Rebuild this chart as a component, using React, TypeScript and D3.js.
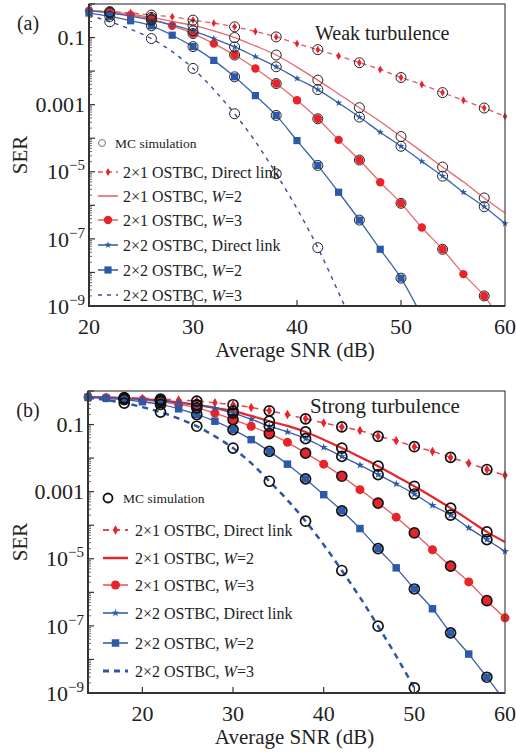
import React, { useEffect, useRef } from 'react';
import * as d3 from 'd3';

const FONT = '"Liberation Serif", "Times New Roman", serif';

// SNR grids (dB)
const snrWeak = [20, 22, 24, 26, 28, 30, 32, 34, 36, 38, 40, 42, 44, 46, 48, 50, 52, 54, 56, 58, 60];
const snrStrong = [14, 16, 18, 20, 22, 24, 26, 28, 30, 32, 34, 36, 38, 40, 42, 44, 46, 48, 50, 52, 54, 56, 58, 60];
const mcWeak = [22, 26, 30, 34, 38, 42, 46, 50, 54, 58];
const mcStrong = [18, 22, 26, 30, 34, 38, 42, 46, 50, 54, 58];

// log10(SER), panel (a) weak turbulence
const weak21Direct = [-0.2, -0.23, -0.26, -0.33, -0.38, -0.48, -0.57, -0.68, -0.82, -0.98, -1.18, -1.36, -1.55, -1.75, -1.95, -2.19, -2.4, -2.64, -2.87, -3.1, -3.35];
const weak21W2 = [-0.2, -0.24, -0.3, -0.4, -0.52, -0.64, -0.8, -1.0, -1.25, -1.52, -1.88, -2.27, -2.68, -3.09, -3.5, -3.95, -4.4, -4.86, -5.3, -5.78, -6.23];
const weak21W3 = [-0.2, -0.25, -0.33, -0.45, -0.65, -0.88, -1.18, -1.52, -1.92, -2.37, -2.87, -3.42, -4.05, -4.65, -5.31, -5.94, -6.66, -7.31, -8.05, -8.7, -9.6];
const weak22Direct = [-0.2, -0.27, -0.36, -0.48, -0.62, -0.8, -1.03, -1.28, -1.57, -1.87, -2.22, -2.55, -2.95, -3.37, -3.82, -4.24, -4.69, -5.13, -5.61, -6.04, -6.54];
const weak22W2 = [-0.27, -0.37, -0.5, -0.65, -0.93, -1.27, -1.68, -2.17, -2.73, -3.32, -4.07, -4.81, -5.61, -6.44, -7.31, -8.17, -9.3];
const weak22W3 = [-0.33, -0.53, -0.75, -1.03, -1.42, -1.92, -2.55, -3.27, -4.1, -5.06, -6.1, -7.26, -8.6, -10];

// log10(SER), panel (b) strong turbulence
const strong21Direct = [-0.18, -0.19, -0.2, -0.22, -0.24, -0.27, -0.3, -0.35, -0.41, -0.49, -0.59, -0.7, -0.83, -0.95, -1.07, -1.18, -1.35, -1.48, -1.66, -1.8, -1.98, -2.15, -2.34, -2.51];
const strong21W2 = [-0.18, -0.19, -0.21, -0.24, -0.28, -0.34, -0.42, -0.5, -0.6, -0.74, -0.9, -1.04, -1.22, -1.45, -1.7, -1.97, -2.24, -2.54, -2.84, -3.16, -3.49, -3.84, -4.2, -4.5];
const strong21W3 = [-0.18, -0.2, -0.23, -0.27, -0.32, -0.4, -0.5, -0.66, -0.85, -1.05, -1.27, -1.53, -1.85, -2.18, -2.54, -2.94, -3.34, -3.76, -4.23, -4.73, -5.22, -5.69, -6.25, -6.76];
const strong22Direct = [-0.17, -0.19, -0.22, -0.25, -0.29, -0.34, -0.41, -0.52, -0.66, -0.84, -1.05, -1.22, -1.42, -1.68, -1.95, -2.21, -2.49, -2.77, -3.07, -3.41, -3.7, -4.08, -4.43, -4.78];
const strong22W2 = [-0.19, -0.22, -0.26, -0.32, -0.4, -0.53, -0.7, -0.9, -1.15, -1.45, -1.8, -2.18, -2.62, -3.09, -3.57, -4.1, -4.7, -5.27, -5.9, -6.49, -7.21, -7.84, -8.53, -9.25];
const strong22W3 = [-0.2, -0.27, -0.36, -0.48, -0.63, -0.82, -1.05, -1.35, -1.7, -2.15, -2.69, -3.25, -3.88, -4.58, -5.35, -6.15, -7.01, -7.9, -8.85, -9.8];

const legendLabels = [
  ['2×1 OSTBC, Direct link', ''],
  ['2×1 OSTBC, ', 'W', '=2'],
  ['2×1 OSTBC, ', 'W', '=3'],
  ['2×2 OSTBC, Direct link', ''],
  ['2×2 OSTBC, ', 'W', '=2'],
  ['2×2 OSTBC, ', 'W', '=3'],
];
const xTickLabels = [20, 30, 40, 50, 60];
const yTickExps = [-1, -3, -5, -7, -9];

const RED = '#e8232a';
const BLUE = '#2c5aa8';

function drawPanel(svg, p) {
  const g = svg.append('g');
  const x = d3.scaleLinear().domain(p.xDomain).range([p.left, p.right]);
  const y = d3.scaleLinear().domain([0, -9]).range([p.top, p.bottom]);
  const clipId = 'clip' + p.tag.replace(/\W/g, '');

  g.append('clipPath').attr('id', clipId)
    .append('rect').attr('x', p.left).attr('y', p.top)
    .attr('width', p.right - p.left).attr('height', p.bottom - p.top);

  // lines
  p.series.forEach((s) => {
    const pts = s.values.map((v, i) => [p.snr[i], v]);
    const line = d3.line().curve(d3.curveMonotoneX).x((d) => x(d[0])).y((d) => y(d[1]));
    g.append('path').datum(pts)
      .attr('clip-path', `url(#${clipId})`)
      .attr('d', line)
      .attr('fill', 'none')
      .attr('stroke', s.lineColor)
      .attr('stroke-width', s.width)
      .attr('stroke-dasharray', s.dash || null);
  });

  // markers
  const drawMarker = (sel, type, cx, cy, m) => {
    if (type === 'circle') {
      sel.append('circle').attr('cx', cx).attr('cy', cy).attr('r', m.r).attr('fill', m.color);
    } else if (type) {
      const sym = { diamond: d3.symbolDiamond, star: d3.symbolStar, square: d3.symbolSquare }[type];
      sel.append('path').attr('d', d3.symbol(sym, m.size)())
        .attr('transform', `translate(${cx},${cy})`).attr('fill', m.color);
    }
  };
  p.series.forEach((s) => {
    if (!s.marker) return;
    s.values.forEach((v, i) => {
      if (v < -9.05) return;
      drawMarker(g, s.marker, x(p.snr[i]), y(v), s);
    });
  });

  // MC simulation circles
  p.series.forEach((s) => {
    p.mc.forEach((snr) => {
      const i = p.snr.indexOf(snr);
      const v = s.values[i];
      if (v === undefined || v < -9.05) return;
      g.append('circle').attr('cx', x(snr)).attr('cy', y(v)).attr('r', p.mcR)
        .attr('fill', 'none').attr('stroke', p.mcStroke).attr('stroke-width', p.mcWidth);
    });
  });

  // frame
  g.append('rect').attr('x', p.left).attr('y', p.top)
    .attr('width', p.right - p.left).attr('height', p.bottom - p.top)
    .attr('fill', 'none').attr('stroke', '#444').attr('stroke-width', 1.2);
  g.append('path')
    .attr('d', `M${p.left},${p.top}V${p.bottom}H${p.right}`)
    .attr('fill', 'none').attr('stroke', '#333').attr('stroke-width', 2);

  // y ticks (log decades with minors)
  for (let e = -9; e <= 0; e++) {
    g.append('line').attr('x1', p.left).attr('x2', p.left + 6)
      .attr('y1', y(e)).attr('y2', y(e)).attr('stroke', '#333').attr('stroke-width', 1.2);
    if (e === 0) continue;
    for (let k = 2; k <= 9; k++) {
      const yy = y(e + Math.log10(k));
      g.append('line').attr('x1', p.left).attr('x2', p.left + 3)
        .attr('y1', yy).attr('y2', yy).attr('stroke', '#444').attr('stroke-width', 0.8);
    }
  }
  yTickExps.forEach((e) => {
    const t = g.append('text').attr('x', p.left - 4).attr('y', y(e)).attr('dy', '0.35em')
      .attr('text-anchor', 'end').attr('font-family', FONT).attr('font-size', 22).attr('fill', '#222');
    if (e >= -3) {
      t.text(e === -1 ? '0.1' : '0.001');
    } else {
      t.append('tspan').text('10');
      t.append('tspan').attr('dy', -9).attr('font-size', 15).text('−' + (-e));
    }
  });

  // x ticks
  p.xTicks.forEach((v) => {
    g.append('line').attr('x1', x(v)).attr('x2', x(v)).attr('y1', p.bottom).attr('y2', p.bottom - 6)
      .attr('stroke', '#333').attr('stroke-width', 1.2);
  });
  xTickLabels.forEach((v) => {
    g.append('text').attr('x', x(v)).attr('y', p.bottom + 20).attr('dy', '0.35em')
      .attr('text-anchor', 'middle').attr('font-family', FONT).attr('font-size', 22).attr('fill', '#222')
      .text(v);
  });

  g.append('text').attr('x', (p.left + p.right) / 2 - 2).attr('y', p.bottom + 44).attr('dy', '0.35em')
    .attr('text-anchor', 'middle').attr('font-family', FONT).attr('font-size', 21).attr('fill', '#222')
    .text('Average SNR (dB)');
  g.append('text').attr('transform', `translate(20,${(p.top + p.bottom) / 2}) rotate(-90)`)
    .attr('dy', '0.35em').attr('text-anchor', 'middle').attr('font-family', FONT)
    .attr('font-size', 21).attr('fill', '#222').text('SER');
  g.append('text').attr('x', 28).attr('y', p.tagY).attr('dy', '0.35em').attr('text-anchor', 'middle')
    .attr('font-family', FONT).attr('font-size', 20).attr('fill', '#222').text(p.tag);
  g.append('text').attr('x', p.titleX).attr('y', p.titleY).attr('dy', '0.35em')
    .attr('font-family', FONT).attr('font-size', p.titleSize).attr('fill', '#222').text(p.title);

  // legend
  const L = p.legend;
  g.append('circle').attr('cx', L.mcX).attr('cy', L.mcY).attr('r', L.mcR)
    .attr('fill', 'none').attr('stroke', L.mcStroke).attr('stroke-width', L.mcWidth);
  g.append('text').attr('x', L.mcTextX).attr('y', L.mcY).attr('dy', '0.35em')
    .attr('font-family', FONT).attr('font-size', 13.5).attr('fill', '#222').text('MC simulation');
  p.series.forEach((s, i) => {
    const yy = L.rows[i];
    g.append('line').attr('x1', L.x0).attr('x2', L.x1).attr('y1', yy).attr('y2', yy)
      .attr('stroke', s.lineColor).attr('stroke-width', s.width + 0.3)
      .attr('stroke-dasharray', s.dash || null);
    drawMarker(g, s.marker, (L.x0 + L.x1) / 2, yy, s);
    const lab = legendLabels[i];
    const t = g.append('text').attr('x', L.textX).attr('y', yy).attr('dy', '0.35em')
      .attr('font-family', FONT).attr('font-size', 16).attr('fill', '#222');
    t.append('tspan').text(lab[0]);
    if (lab.length > 2) {
      t.append('tspan').attr('font-style', 'italic').text(lab[1]);
      t.append('tspan').text(lab[2]);
    }
  });
}

const App = () => {
  const node = useRef(null);

  useEffect(() => {
    const svg = d3.select(node.current);
    svg.selectAll('*').remove();

    drawPanel(svg, {
      left: 89, right: 505, top: 4, bottom: 306,
      xDomain: [20, 60], xTicks: [30, 40, 50], snr: snrWeak, mc: mcWeak,
      mcR: 5, mcStroke: '#222', mcWidth: 1,
      tag: '(a)', tagY: 23, title: 'Weak turbulence', titleX: 315, titleY: 33, titleSize: 20,
      series: [
        { values: weak21Direct, lineColor: '#e2575d', width: 1.3, dash: '5,4', marker: 'diamond', color: RED, size: 18 },
        { values: weak21W2, lineColor: '#e5686d', width: 1.3, marker: null },
        { values: weak21W3, lineColor: '#e5686d', width: 1.3, marker: 'circle', color: RED, r: 4.2 },
        { values: weak22Direct, lineColor: '#3d62ad', width: 1.3, marker: 'star', color: BLUE, size: 16 },
        { values: weak22W2, lineColor: '#3d62ad', width: 1.3, marker: 'square', color: BLUE, size: 52 },
        { values: weak22W3, lineColor: '#3a4b98', width: 1.4, dash: '4,5', marker: null },
      ],
      legend: {
        mcX: 102, mcY: 143, mcR: 3.5, mcStroke: '#777', mcWidth: 1, mcTextX: 115,
        x0: 98, x1: 118, textX: 123, rows: [172, 196, 220, 245, 270, 295],
      },
    });

    drawPanel(svg, {
      left: 88, right: 505, top: 391, bottom: 693,
      xDomain: [14, 60], xTicks: [20, 30, 40, 50], snr: snrStrong, mc: mcStrong,
      mcR: 5, mcStroke: '#111', mcWidth: 1.7,
      tag: '(b)', tagY: 410, title: 'Strong turbulence', titleX: 310, titleY: 406, titleSize: 21,
      series: [
        { values: strong21Direct, lineColor: '#e6474d', width: 1.5, dash: '6,5', marker: 'diamond', color: RED, size: 26 },
        { values: strong21W2, lineColor: '#e3262b', width: 2.2, marker: null },
        { values: strong21W3, lineColor: '#e8585e', width: 1.3, marker: 'circle', color: RED, r: 4.5 },
        { values: strong22Direct, lineColor: '#3a5ca8', width: 1.3, marker: 'star', color: BLUE, size: 20 },
        { values: strong22W2, lineColor: '#3a5ca8', width: 1.3, marker: 'square', color: BLUE, size: 56 },
        { values: strong22W3, lineColor: '#2c56a3', width: 2.5, dash: '6,5', marker: null },
      ],
      legend: {
        mcX: 108, mcY: 498, mcR: 4.5, mcStroke: '#111', mcWidth: 1.8, mcTextX: 123,
        x0: 103, x1: 128, textX: 135, rows: [530, 558, 585, 613, 643, 671],
      },
    });
  }, []);

  return (
    <svg ref={node} width={516} height={752}
      style={{ position: 'absolute', left: 0, top: 0, background: '#fff' }} />
  );
};

export default App;
